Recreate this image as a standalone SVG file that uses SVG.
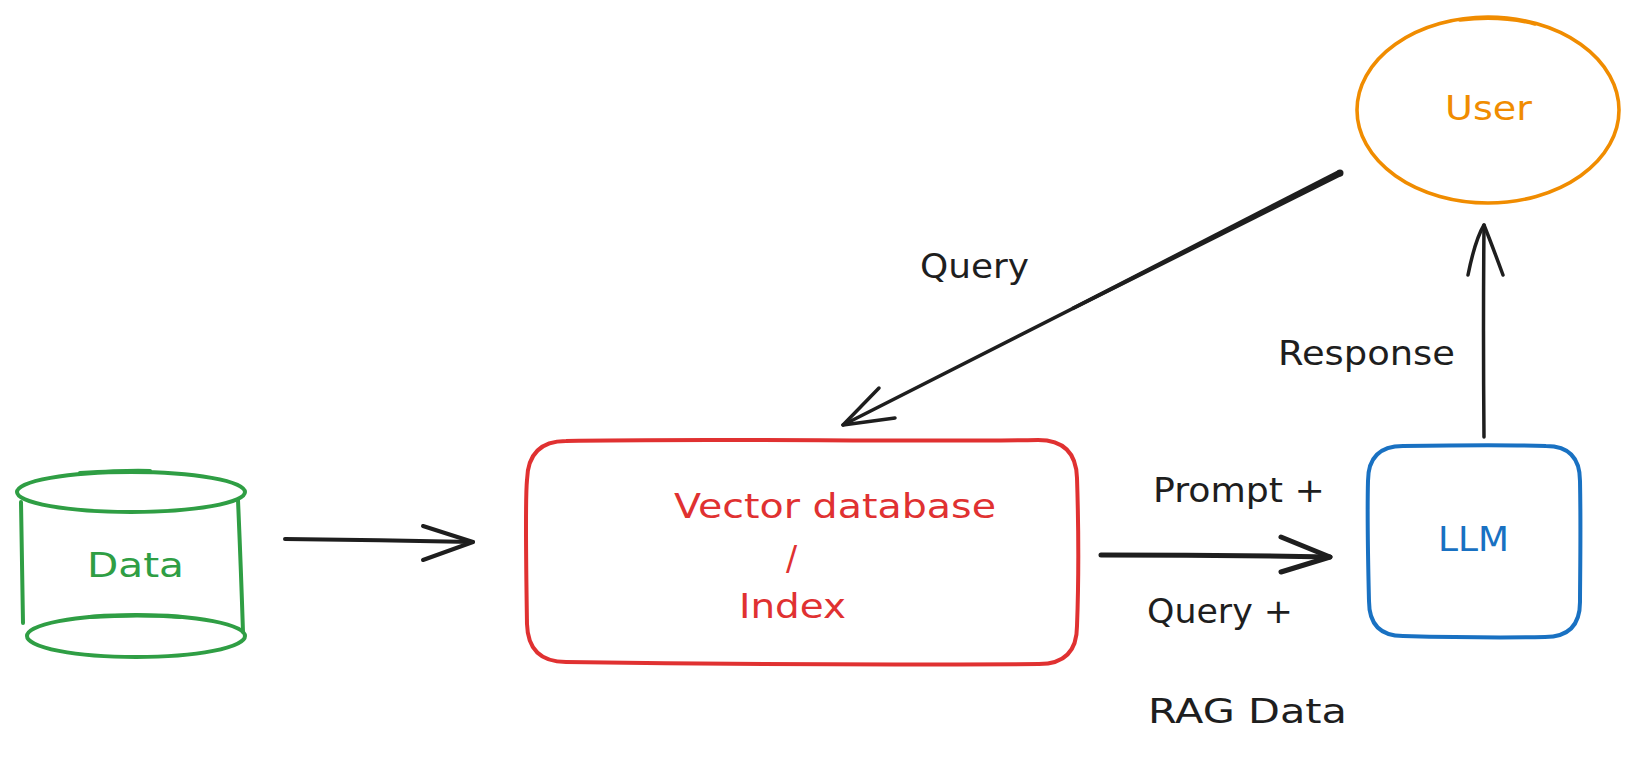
<svg xmlns="http://www.w3.org/2000/svg" width="1636" height="758" viewBox="0 0 1636 758">
<style>
.bg{fill:#ffffff}
.sk{fill:none;stroke-linecap:round;stroke-linejoin:round}
.green{stroke:#2f9e44;stroke-width:4}
.red{stroke:#e03131;stroke-width:4}
.blue{stroke:#1971c2;stroke-width:4}
.orange{stroke:#f08c00;stroke-width:3.6}
.ink{stroke:#1e1e1e;fill:none;stroke-linecap:round;stroke-linejoin:round}
text{font-family:"DejaVu Sans","Liberation Sans",sans-serif;font-size:33px}
.tg{fill:#2f9e44}
.tr{fill:#e03131}
.tb{fill:#1971c2}
.to{fill:#f08c00}
.tk{fill:#1e1e1e}
</style>
<rect class="bg" x="0" y="0" width="1636" height="758"/>

<g id="data">
  <ellipse class="sk green" cx="131" cy="492" rx="114" ry="20"/>
  <path class="sk green" d="M 80 473 Q 130 470 150 471"/>
  <path class="sk green" d="M 21 502 L 23 623"/>
  <path class="sk green" d="M 238 500 Q 241 570 243 632"/>
  <ellipse class="sk green" cx="136" cy="636" rx="109" ry="21"/>
  <path class="sk green" d="M 90 617 Q 140 614 180 617"/>
  <text class="tg" x="87" y="577" font-size="38" textLength="97" lengthAdjust="spacingAndGlyphs">Data</text>
</g>

<g id="vectordb">
  <path class="sk red" d="M 566 441 C 700 438, 900 442, 1038 440 Q 1076 440 1077 478 C 1079 540, 1078 600, 1077 626 Q 1077 664 1039 664 C 900 665, 700 664, 566 662 Q 528 662 527 624 C 526 560, 525 500, 527 480 Q 528 441 566 441 Z"/>
  <text class="tr" x="674" y="518" textLength="322" lengthAdjust="spacingAndGlyphs">Vector database</text>
  <text class="tr" x="786" y="570" font-size="40">/</text>
  <text class="tr" x="739" y="618" textLength="107" lengthAdjust="spacingAndGlyphs">Index</text>
</g>

<g id="llm">
  <path class="sk blue" d="M 1403 446 C 1460 445, 1520 445, 1546 446 Q 1580 446 1580 481 C 1581 530, 1580 580, 1580 602 Q 1580 637 1545 637 C 1500 638, 1440 637, 1403 636 Q 1369 636 1369 601 C 1368 560, 1367 520, 1368 481 Q 1368 446 1403 446 Z"/>
  <text class="tb" x="1438" y="551" textLength="71" lengthAdjust="spacingAndGlyphs">LLM</text>
</g>

<g id="user">
  <ellipse class="sk orange" cx="1488" cy="110" rx="131" ry="93"/>
  <path class="sk orange" d="M 1460 20 Q 1500 15 1535 24"/>
  <text class="to" x="1445" y="120" textLength="87" lengthAdjust="spacingAndGlyphs">User</text>
</g>

<g id="connectors">
  <path class="ink" stroke-width="4" d="M 285 539 Q 380 540 473 542"/>
  <path class="ink" stroke-width="4" d="M 423 526 L 473 542 L 423 560"/>

  <path class="ink" stroke-width="5" d="M 1101 555 Q 1215 555 1330 557"/>
  <path class="ink" stroke-width="5" d="M 1281 537 L 1330 557 L 1281 572"/>

  <path class="ink" stroke-width="3.5" d="M 1340 173 L 843 425"/>
  <polygon fill="#1e1e1e" points="1341.6,176.1 1338.4,169.9 1071.6,307.0 1073.2,310.2"/>
  <circle fill="#1e1e1e" cx="1340" cy="173" r="3.5"/>
  <path class="ink" stroke-width="3.5" d="M 879 388 L 843 425 L 895 418"/>

  <path class="ink" stroke-width="3.5" d="M 1484 437 Q 1483 330 1484 225"/>
  <path class="ink" stroke-width="3.5" d="M 1468 275 Q 1475 240 1484 225 Q 1492 245 1503 275"/>
</g>

<g id="labels">
  <text class="tk" x="920" y="278" textLength="109" lengthAdjust="spacingAndGlyphs">Query</text>
  <text class="tk" x="1278" y="365" textLength="177" lengthAdjust="spacingAndGlyphs">Response</text>
  <text class="tk" x="1153" y="502" textLength="172" lengthAdjust="spacingAndGlyphs">Prompt +</text>
  <text class="tk" x="1147" y="623" textLength="146" lengthAdjust="spacingAndGlyphs">Query +</text>
  <text class="tk" x="1148" y="723" textLength="199" lengthAdjust="spacingAndGlyphs">RAG Data</text>
</g>
</svg>
